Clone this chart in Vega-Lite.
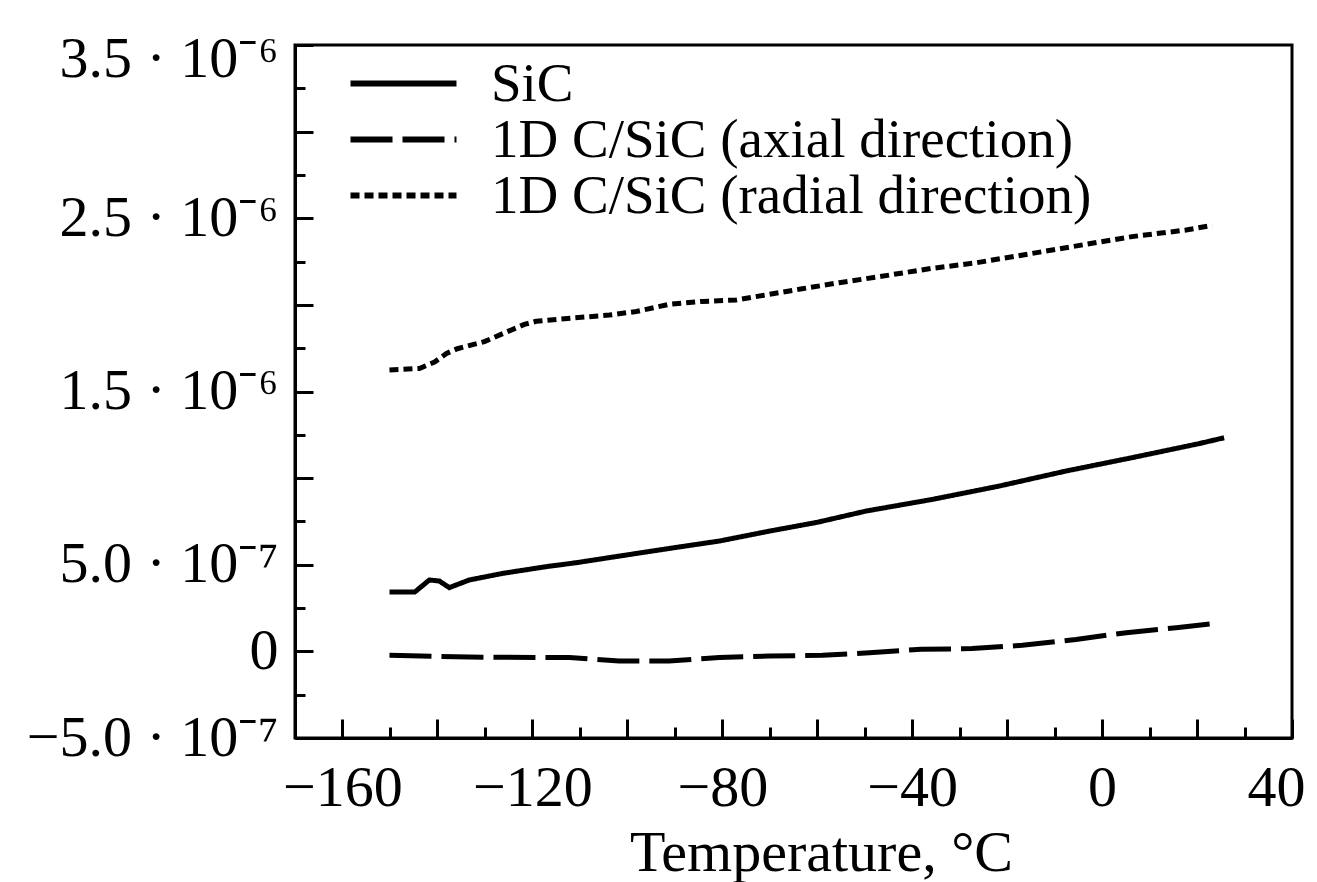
{
  "$schema": "https://vega.github.io/schema/vega-lite/v6.json",
  "width": 997,
  "height": 693,
  "autosize": {"type": "none"},
  "padding": {"left": 295, "top": 45, "right": 25, "bottom": 144},
  "background": "white",
  "config": {
    "view": {"stroke": "black", "strokeWidth": 3},
    "font": "Liberation Serif",
    "axis": {"domainColor": "black", "domainWidth": 3, "tickColor": "black", "tickWidth": 3, "labelColor": "black", "titleColor": "black", "grid": false, "labelFont": "Liberation Serif", "titleFont": "Liberation Serif", "labelFontSize": 58, "titleFontSize": 58, "titleFontWeight": "normal", "labelLimit": 0}
  },
  "data": {"values": [
    {"T": -150.1, "v": 0.342e-6, "s": "SiC"},
    {"T": -144.8, "v": 0.342e-6, "s": "SiC"},
    {"T": -141.7, "v": 0.412e-6, "s": "SiC"},
    {"T": -139.6, "v": 0.406e-6, "s": "SiC"},
    {"T": -137.5, "v": 0.368e-6, "s": "SiC"},
    {"T": -133.3, "v": 0.412e-6, "s": "SiC"},
    {"T": -126.3, "v": 0.450e-6, "s": "SiC"},
    {"T": -117.1, "v": 0.489e-6, "s": "SiC"},
    {"T": -110.7, "v": 0.512e-6, "s": "SiC"},
    {"T": -101.7, "v": 0.550e-6, "s": "SiC"},
    {"T": -91.2, "v": 0.594e-6, "s": "SiC"},
    {"T": -80.6, "v": 0.637e-6, "s": "SiC"},
    {"T": -70.1, "v": 0.694e-6, "s": "SiC"},
    {"T": -60.0, "v": 0.745e-6, "s": "SiC"},
    {"T": -49.7, "v": 0.810e-6, "s": "SiC"},
    {"T": -35.8, "v": 0.877e-6, "s": "SiC"},
    {"T": -21.7, "v": 0.954e-6, "s": "SiC"},
    {"T": -7.6, "v": 1.041e-6, "s": "SiC"},
    {"T": 6.3, "v": 1.118e-6, "s": "SiC"},
    {"T": 20.4, "v": 1.199e-6, "s": "SiC"},
    {"T": 25.7, "v": 1.233e-6, "s": "SiC"},
    {"T": -150.1, "v": -0.023e-6, "s": "1D C/SiC (axial direction)"},
    {"T": -133.3, "v": -0.033e-6, "s": "1D C/SiC (axial direction)"},
    {"T": -112.2, "v": -0.036e-6, "s": "1D C/SiC (axial direction)"},
    {"T": -101.7, "v": -0.056e-6, "s": "1D C/SiC (axial direction)"},
    {"T": -91.2, "v": -0.056e-6, "s": "1D C/SiC (axial direction)"},
    {"T": -80.6, "v": -0.036e-6, "s": "1D C/SiC (axial direction)"},
    {"T": -70.1, "v": -0.027e-6, "s": "1D C/SiC (axial direction)"},
    {"T": -58.9, "v": -0.023e-6, "s": "1D C/SiC (axial direction)"},
    {"T": -49.0, "v": -0.008e-6, "s": "1D C/SiC (axial direction)"},
    {"T": -38.1, "v": 0.012e-6, "s": "1D C/SiC (axial direction)"},
    {"T": -27.4, "v": 0.016e-6, "s": "1D C/SiC (axial direction)"},
    {"T": -16.8, "v": 0.035e-6, "s": "1D C/SiC (axial direction)"},
    {"T": -5.5, "v": 0.069e-6, "s": "1D C/SiC (axial direction)"},
    {"T": 5.1, "v": 0.108e-6, "s": "1D C/SiC (axial direction)"},
    {"T": 15.6, "v": 0.137e-6, "s": "1D C/SiC (axial direction)"},
    {"T": 24.0, "v": 0.162e-6, "s": "1D C/SiC (axial direction)"},
    {"T": -150.1, "v": 1.624e-6, "s": "1D C/SiC (radial direction)"},
    {"T": -143.8, "v": 1.633e-6, "s": "1D C/SiC (radial direction)"},
    {"T": -140.6, "v": 1.670e-6, "s": "1D C/SiC (radial direction)"},
    {"T": -138.1, "v": 1.720e-6, "s": "1D C/SiC (radial direction)"},
    {"T": -135.8, "v": 1.747e-6, "s": "1D C/SiC (radial direction)"},
    {"T": -130.1, "v": 1.788e-6, "s": "1D C/SiC (radial direction)"},
    {"T": -125.5, "v": 1.843e-6, "s": "1D C/SiC (radial direction)"},
    {"T": -121.7, "v": 1.887e-6, "s": "1D C/SiC (radial direction)"},
    {"T": -119.2, "v": 1.905e-6, "s": "1D C/SiC (radial direction)"},
    {"T": -111.6, "v": 1.924e-6, "s": "1D C/SiC (radial direction)"},
    {"T": -103.8, "v": 1.941e-6, "s": "1D C/SiC (radial direction)"},
    {"T": -98.1, "v": 1.962e-6, "s": "1D C/SiC (radial direction)"},
    {"T": -91.2, "v": 2.003e-6, "s": "1D C/SiC (radial direction)"},
    {"T": -84.2, "v": 2.020e-6, "s": "1D C/SiC (radial direction)"},
    {"T": -77.1, "v": 2.028e-6, "s": "1D C/SiC (radial direction)"},
    {"T": -63.2, "v": 2.093e-6, "s": "1D C/SiC (radial direction)"},
    {"T": -55.4, "v": 2.128e-6, "s": "1D C/SiC (radial direction)"},
    {"T": -46.9, "v": 2.163e-6, "s": "1D C/SiC (radial direction)"},
    {"T": -35.8, "v": 2.211e-6, "s": "1D C/SiC (radial direction)"},
    {"T": -26.5, "v": 2.243e-6, "s": "1D C/SiC (radial direction)"},
    {"T": -18.9, "v": 2.278e-6, "s": "1D C/SiC (radial direction)"},
    {"T": -6.3, "v": 2.336e-6, "s": "1D C/SiC (radial direction)"},
    {"T": 6.3, "v": 2.394e-6, "s": "1D C/SiC (radial direction)"},
    {"T": 17.7, "v": 2.432e-6, "s": "1D C/SiC (radial direction)"},
    {"T": 23.2, "v": 2.459e-6, "s": "1D C/SiC (radial direction)"}
  ]},
  "mark": {"type": "line", "color": "black", "strokeWidth": 5, "strokeCap": "butt", "clip": true},
  "encoding": {
    "x": {
      "field": "T", "type": "quantitative",
      "scale": {"domain": [-170, 40], "nice": false, "zero": false},
      "axis": {
        "values": [-160, -150, -140, -130, -120, -110, -100, -90, -80, -70, -60, -50, -40, -30, -20, -10, 0, 10, 20, 30, 40],
        "labelExpr": "datum.value % 40 === 0 ? (datum.value < 0 ? '−' + abs(datum.value) : '' + datum.value) : ''",
        "tickSize": {"condition": {"test": "datum.value % 20 === 0", "value": -19}, "value": -11},
        "labelPadding": 40,
        "labelFlushOffset": 13,
        "labelOverlap": false,
        "title": "Temperature, °C",
        "titleX": 526,
        "titleY": 132,
        "titleBaseline": "alphabetic",
        "titleAnchor": "middle",
        "titleAlign": "center"
      }
    },
    "y": {
      "field": "v", "type": "quantitative",
      "scale": {"domain": [-5e-7, 3.5e-6], "nice": false, "zero": false},
      "axis": {
        "values": [-5e-7, -2.5e-7, 0, 2.5e-7, 5e-7, 7.5e-7, 1e-6, 1.25e-6, 1.5e-6, 1.75e-6, 2e-6, 2.25e-6, 2.5e-6, 2.75e-6, 3e-6, 3.25e-6, 3.5e-6],
        "labelExpr": "round(datum.value*1e8) === -50 ? '−5.0 · 10⁻⁷' : round(datum.value*1e8) === 0 ? '0' : round(datum.value*1e8) === 50 ? '5.0 · 10⁻⁷' : round(datum.value*1e8) === 150 ? '1.5 · 10⁻⁶' : round(datum.value*1e8) === 250 ? '2.5 · 10⁻⁶' : round(datum.value*1e8) === 350 ? '3.5 · 10⁻⁶' : ''",
        "tickSize": {"condition": {"test": "abs(round(datum.value*1e8)) % 50 === 0", "value": -18}, "value": -10},
        "labelBaseline": "middle",
        "labelOffset": {"condition": {"test": "round(datum.value*1e8) === 350", "value": 14}, "value": 0},
        "labelPadding": 35,
        "labelOverlap": false,
        "labelFlush": false,
        "title": null
      }
    },
    "strokeDash": {
      "field": "s", "type": "nominal",
      "scale": {"domain": ["SiC", "1D C/SiC (axial direction)", "1D C/SiC (radial direction)"], "range": [[1, 0], [42, 10], [9, 5]]},
      "legend": {
        "title": null,
        "orient": "none",
        "legendX": 81,
        "legendY": 11,
        "symbolType": "M-4,0H4",
        "symbolSize": 702,
        "symbolStrokeWidth": 6,
        "symbolStrokeColor": "black",
        "labelFont": "Liberation Serif",
        "labelFontSize": 55,
        "labelColor": "black",
        "labelOffset": 60,
        "labelLimit": 0,
        "rowPadding": -2
      }
    }
  }
}
